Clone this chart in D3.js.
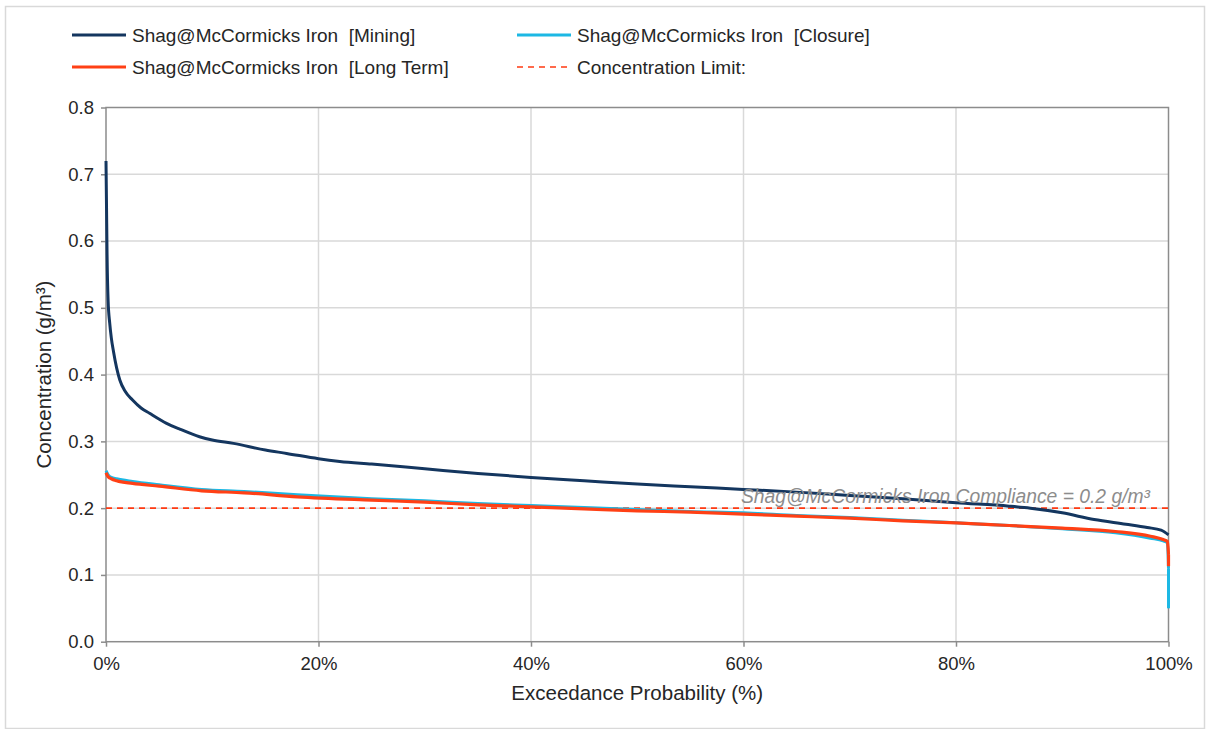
<!DOCTYPE html>
<html><head><meta charset="utf-8">
<script src="https://cdn.jsdelivr.net/npm/d3@7"></script>
<style>body{margin:0;background:#fff;font-family:"Liberation Sans",Arial,sans-serif}</style>
</head><body>
<svg id="c" width="1216" height="729"></svg>
<script>
const seriesNames = ["Shag@McCormicks Iron  [Mining]", "Shag@McCormicks Iron  [Closure]", "Shag@McCormicks Iron  [Long Term]", "Concentration Limit:"];
const miningX = [0,0.05,0.1,0.2,0.35,0.5,0.7,1.0,1.3,1.8,2.5,3.3,4.1,5.7,7,8.8,10,12,15,17,20,22,25,30,35,40,45,50,55,60,65,70,75,80,85,87,90,93,96,98,99.3,100];
const miningY = [0.72,0.65,0.58,0.51,0.477,0.455,0.435,0.41,0.392,0.375,0.362,0.35,0.342,0.327,0.318,0.307,0.302,0.297,0.287,0.282,0.274,0.270,0.266,0.259,0.252,0.246,0.241,0.236,0.232,0.228,0.224,0.219,0.214,0.208,0.203,0.200,0.193,0.183,0.176,0.171,0.167,0.16];
const closureX = [0,0.2,0.5,1,2.5,5,9,13,18,25,30,35,40,45,50,55,60,65,70,75,80,85,90,95,98.3,99.5,99.9,100,100];
const closureY = [0.256,0.250,0.246,0.244,0.240,0.235,0.228,0.225,0.220,0.214,0.211,0.207,0.204,0.201,0.198,0.195,0.193,0.189,0.186,0.182,0.178,0.174,0.169,0.163,0.155,0.151,0.148,0.11,0.05];
const longX = [0,0.2,0.5,1,2.5,5,9,13,18,25,30,35,40,45,50,55,60,65,70,75,80,85,90,95,98.3,99.5,99.9,100,100];
const longY = [0.253,0.247,0.244,0.241,0.237,0.233,0.226,0.223,0.217,0.212,0.209,0.205,0.202,0.199,0.196,0.194,0.191,0.188,0.185,0.181,0.178,0.174,0.170,0.165,0.158,0.153,0.150,0.13,0.113];
const limitValue = 0.2;
const xTicks = [0,20,40,60,80,100];
const yTicks = [0,0.1,0.2,0.3,0.4,0.5,0.6,0.7,0.8];
const annotation = "Shag@McCormicks Iron Compliance = 0.2 g/m³";

const svg = d3.select("#c");
const L = 106, R = 1168.5, T = 107.5, B = 641.7;
const x = d3.scaleLinear().domain([0,100]).range([L,R]);
const y = d3.scaleLinear().domain([0,0.8]).range([B,T]);
const font = '"Liberation Sans",Arial,sans-serif';

svg.append("rect").attr("x",5.5).attr("y",6.5).attr("width",1199).attr("height",722).attr("fill","none").attr("stroke","#d9d9d9").attr("stroke-width",1.5);

// gridlines
svg.append("g").selectAll("line").data(yTicks.slice(1,-1)).join("line")
  .attr("x1",L).attr("x2",R).attr("y1",d=>y(d)).attr("y2",d=>y(d)).attr("stroke","#d9d9d9").attr("stroke-width",1.5);
svg.append("g").selectAll("line").data(xTicks.slice(1,-1)).join("line")
  .attr("y1",T).attr("y2",B).attr("x1",d=>x(d)).attr("x2",d=>x(d)).attr("stroke","#d9d9d9").attr("stroke-width",1.5);
// plot box
svg.append("rect").attr("x",L).attr("y",T).attr("width",R-L).attr("height",B-T).attr("fill","none").attr("stroke","#8c8c8c").attr("stroke-width",1.5);

// axes
const ya = svg.append("g").attr("transform",`translate(${L},0)`)
  .call(d3.axisLeft(y).tickValues(yTicks).tickFormat(d3.format(".1f")).tickSize(5).tickPadding(7));
const xa = svg.append("g").attr("transform",`translate(0,${B})`)
  .call(d3.axisBottom(x).tickValues(xTicks).tickFormat(d=>d+"%").tickSize(5).tickPadding(10));
[ya,xa].forEach(a=>{
  a.select(".domain").remove();
  a.selectAll("line").attr("stroke","#8c8c8c").attr("stroke-width",1.5);
  a.selectAll("text").attr("font-family",font).attr("font-size",18.5).attr("fill","#262626");
});

svg.append("text").attr("transform",`translate(51,${(T+B)/2}) rotate(-90)`).attr("text-anchor","middle")
  .attr("font-family",font).attr("font-size",20.5).attr("fill","#262626").text("Concentration (g/m³)");
svg.append("text").attr("x",(L+R)/2).attr("y",700).attr("text-anchor","middle")
  .attr("font-family",font).attr("font-size",20.5).attr("fill","#262626").text("Exceedance Probability (%)");

// limit line
svg.append("line").attr("x1",L).attr("x2",R).attr("y1",y(limitValue)).attr("y2",y(limitValue))
  .attr("stroke","#ff3a12").attr("stroke-width",1.6).attr("stroke-dasharray","6,5");

const line = d3.line().x(d=>x(d[0])).y(d=>y(d[1])).curve(d3.curveMonotoneX);
const lineL = d3.line().x(d=>x(d[0])).y(d=>y(d[1]));
function pts(xs,ys){return xs.map((v,i)=>[v,ys[i]]);}
function draw(xs,ys,color,w){
  const p = pts(xs,ys);
  const main = p.filter((d,i)=>!(i>0 && d[0]===xs[i-1]));
  svg.append("path").attr("d",line(main)).attr("fill","none").attr("stroke",color).attr("stroke-width",w).attr("stroke-linejoin","round");
  const tail = p.slice(-2);
  svg.append("path").attr("d",lineL(tail)).attr("fill","none").attr("stroke",color).attr("stroke-width",w);
}
draw(closureX,closureY,"#1cb8e4",3);
draw(longX,longY,"#ff4015",3.2);
svg.append("path").attr("d",line(pts(miningX,miningY))).attr("fill","none").attr("stroke","#14365f").attr("stroke-width",3).attr("stroke-linejoin","round");

// annotation
svg.append("text").attr("x",1150).attr("y",y(limitValue)-5).attr("text-anchor","end")
  .attr("font-family",font).attr("font-size",19.3).attr("font-style","italic").attr("fill","#8c8c8c").text(annotation);

// legend
const leg = [
  {n:seriesNames[0],c:"#14365f",x:72,y:35,dash:null},
  {n:seriesNames[1],c:"#1cb8e4",x:517,y:35,dash:null},
  {n:seriesNames[2],c:"#ff4015",x:72,y:67,dash:null},
  {n:seriesNames[3],c:"#ff3a12",x:517,y:67,dash:"6,5"}
];
const lg = svg.append("g").selectAll("g").data(leg).join("g").attr("transform",d=>`translate(${d.x},${d.y})`);
lg.append("line").attr("x1",0).attr("x2",54).attr("stroke",d=>d.c).attr("stroke-width",d=>d.dash?1.6:3).attr("stroke-dasharray",d=>d.dash);
lg.append("text").attr("x",60).attr("dy","0.35em").attr("font-family",font).attr("font-size",19).attr("fill","#262626").style("white-space","pre").text(d=>d.n);
</script>
</body></html>
